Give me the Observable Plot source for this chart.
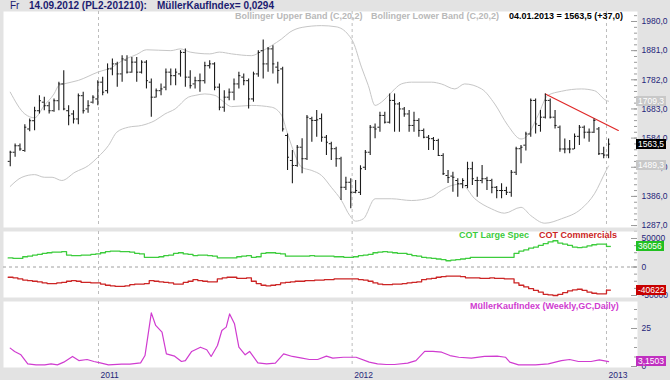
<!DOCTYPE html>
<html><head><meta charset="utf-8">
<script src="https://cdn.jsdelivr.net/npm/d3@7"></script>
<script src="https://cdn.jsdelivr.net/npm/@observablehq/plot@0.6"></script>
<style>
body{margin:0;background:#e3e3e3;font-family:"Liberation Sans",Arial,sans-serif;}
#wrap{position:relative;width:670px;height:380px;overflow:hidden;background:#e3e3e3;}
.p{position:absolute;left:0;}
.t{position:absolute;white-space:nowrap;font-weight:bold;font-size:9px;line-height:10px;}
.box{position:absolute;left:636px;height:10px;line-height:10px;font-size:8.5px;color:#fff;padding:0 2px;white-space:nowrap;}
</style></head><body><div id="wrap"></div>
<script>
// ---------- DATA (weekly bars, first bar Friday 27.08.2010, last 04.01.2013) ----------
const opens  = [1505,1536,1558,1542,1615,1643,1677,1706,1694,1677,1711,1768,1677,1666,1649,1728,1683,1706,1717,1774,1745,1819,1836,1802,1849,1808,1842,1808,1842,1774,1723,1745,1757,1808,1796,1802,1875,1791,1768,1779,1779,1830,1836,1757,1689,1723,1740,1768,1791,1779,1717,1802,1881,1836,1887,1825,1819,1593,1508,1491,1553,1514,1650,1644,1650,1587,1565,1548,1514,1417,1434,1400,1400,1485,1536,1621,1621,1661,1638,1712,1700,1683,1666,1627,1644,1610,1587,1582,1576,1525,1457,1455,1440,1429,1423,1480,1440,1440,1446,1440,1417,1406,1406,1400,1468,1548,1560,1598,1712,1627,1655,1712,1655,1621,1547,1547,1547,1590,1621,1604,1604,1615,1531,1526.5];
const highs  = [1539,1564,1564,1629,1649,1689,1728,1723,1706,1717,1774,1813,1694,1677,1734,1740,1711,1728,1779,1791,1836,1853,1842,1864,1864,1858,1858,1847,1847,1785,1751,1768,1819,1819,1819,1881,1887,1813,1791,1802,1842,1847,1840,1768,1745,1751,1785,1808,1802,1785,1808,1881,1917,1892,1898,1842,1825,1598,1542,1559,1582,1661,1655,1678,1666,1593,1570,1553,1519,1451,1446,1440,1490,1542,1627,1632,1672,1672,1734,1734,1705,1688,1678,1672,1650,1615,1593,1586,1580,1531,1474,1468,1446,1446,1502,1502,1451,1491,1451,1444,1420,1429,1417,1474,1553,1559,1604,1717,1717,1678,1734,1717,1678,1625,1581,1576,1598,1627,1625,1615,1649,1620,1553,1581];
const lows   = [1487,1519,1539,1536,1606,1609,1666,1677,1666,1672,1677,1677,1626,1632,1629,1666,1668,1700,1694,1728,1734,1796,1757,1774,1802,1804,1774,1802,1751,1655,1720,1728,1745,1762,1762,1791,1757,1751,1751,1740,1768,1819,1745,1677,1672,1711,1711,1751,1762,1683,1706,1791,1785,1808,1802,1768,1605,1474,1429,1485,1463,1508,1570,1587,1570,1525,1508,1485,1372,1406,1344,1395,1389,1474,1525,1582,1604,1632,1632,1604,1604,1655,1604,1604,1587,1582,1542,1542,1522,1457,1430,1400,1383,1412,1412,1423,1383,1429,1406,1395,1378,1378,1389,1383,1457,1497,1540,1587,1598,1604,1649,1649,1615,1536,1531,1531,1545,1559,1581,1570,1600,1525,1514,1514];
const closes = [1536,1558,1547,1621,1643,1677,1711,1694,1677,1711,1768,1683,1660,1649,1728,1677,1694,1723,1774,1740,1819,1836,1802,1853,1808,1842,1808,1842,1779,1723,1745,1751,1808,1796,1808,1875,1791,1762,1779,1779,1830,1836,1757,1689,1723,1740,1768,1796,1779,1717,1802,1875,1836,1887,1836,1814,1615,1519,1491,1553,1514,1655,1644,1646,1587,1570,1548,1514,1417,1434,1400,1406,1480,1536,1621,1615,1661,1638,1712,1700,1683,1666,1627,1644,1610,1587,1582,1576,1525,1463,1450,1451,1429,1440,1480,1446,1440,1446,1440,1417,1406,1406,1400,1468,1548,1553,1598,1712,1632,1655,1712,1655,1627,1547,1547,1547,1590,1621,1604,1604,1644,1531,1526.5,1563.5];

// Bollinger bands (week index, value)
const upperWeeks  = [0,3,5,7,9,10,11,14,18,21,23,26,28,33,35,37,41,43,45.5,49.6,51.7,53.7,55.8,57.5,60,64,67,69.5,70.5,72.2,73.6,75,76.3,78.4,80.4,82.5,86.6,88.6,91.4,93.4,96.9,99.6,102.3,105,106,108.5,110.5,113.3,117.4,120.1,122.5,123];
const upperValues = [1740,1666,1653,1695,1734,1763,1768,1780,1808,1825,1847,1868,1884,1881,1887,1876,1870,1876,1870,1864,1879,1898,1921,1944,1960,1966,1962,1935,1910,1825,1763,1695,1706,1740,1768,1774,1774,1768,1751,1768,1751,1700,1627,1581,1587,1661,1729,1743,1751,1745,1712,1709.3];
const lowerWeeks  = [0,2.4,5,7,8.6,10.6,13.3,16.1,18,20.2,21.9,24.3,27,29.8,31.8,33.9,36.6,38,40,42.1,43.5,45.5,49.6,53.7,55.8,56.8,58.2,59.9,62,64,66,68.1,69.8,71,72.6,75,78.4,82.5,86.6,88.6,90.7,92.7,95.5,98.9,101.6,105,107,109.9,113.3,117.4,120.1,122.5,123];
const lowerValues = [1420,1451,1460,1451,1451,1440,1468,1491,1519,1559,1604,1621,1627,1644,1666,1683,1723,1729,1734,1729,1712,1691,1695,1689,1661,1610,1542,1485,1474,1457,1417,1372,1321,1302,1310,1378,1378,1372,1383,1406,1423,1428,1378,1344,1329,1349,1321,1295,1310,1344,1395,1474,1489.3];
const trendWeeks  = [110,125];
const trendValues = [1734,1610];

// COT (weekly, Tuesdays)
const cotLargeSpec = [16000,15000,15000,18000,19000,21000,22000,24000,25000,26000,26000,27000,21000,20000,20000,21000,21000,22000,23000,25000,27000,28000,28000,27000,27000,26000,24000,23000,17000,17000,17000,18000,20000,21000,24000,25000,23000,22000,20000,21000,21000,20000,19000,16000,16000,16000,16000,18000,19000,20000,17000,18000,24000,25000,25000,24000,23000,19000,19000,19000,19000,19000,20000,19000,19000,19000,19000,18000,18000,17000,17000,18000,20000,21000,22000,25000,26000,27000,26000,25000,24000,24000,22000,20000,19000,17000,16000,15000,14000,13000,11000,12000,13000,14000,15000,17000,17000,17000,17000,17000,17000,17000,17000,17000,24000,28000,30000,33000,35000,38000,41000,44000,46000,42000,40000,38000,35000,34000,35000,37000,39000,40000,40000,36056];
const cotCommercials = [-18000,-19000,-21000,-23000,-24000,-25000,-26000,-28000,-29000,-29000,-28000,-27000,-25000,-24000,-25000,-27000,-27000,-28000,-28000,-30000,-32000,-33000,-34000,-34000,-33000,-31000,-30000,-30000,-29000,-24000,-25000,-26000,-27000,-28000,-30000,-30000,-27000,-25000,-22000,-24000,-25000,-26000,-26000,-21000,-19000,-18000,-18000,-20000,-20000,-19000,-25000,-29000,-32000,-33000,-32000,-31000,-28000,-27000,-26000,-25000,-25000,-24000,-24000,-23000,-23000,-22000,-22000,-21000,-21000,-21000,-21000,-21000,-22000,-23000,-25000,-28000,-30000,-31000,-31000,-30000,-30000,-29000,-28000,-27000,-26000,-22000,-21000,-20000,-18000,-17000,-16000,-16000,-16000,-17000,-19000,-19000,-19000,-20000,-20000,-19000,-20000,-20000,-21000,-21000,-28000,-32000,-35000,-38000,-41000,-44000,-48000,-49000,-50000,-48000,-45000,-42000,-40000,-39000,-41000,-44000,-46000,-47000,-47000,-40622];

// MüllerKaufIndex (week index, value)
const mkiWeeks  = [0,0.9,2.2,3.6,5.3,7.1,8.4,9.7,11,12.8,14.1,15.8,17.2,18.5,20.2,22.9,24.6,26.8,27.7,29.0,29.9,31.2,32.1,33.8,35.2,36.0,37.3,39.1,40.4,41.3,42.6,43.5,44.4,45.1,46.1,47.0,48.3,49.2,50.9,52.7,54.5,56.2,58,59.7,61.5,63.2,65,66.3,68.5,71.1,73.8,75.5,77.3,79,81.7,83.4,85.2,86.9,88.7,90.4,92.2,94.8,97.5,100.1,101.8,102.7,104.5,108,110.6,113.3,115,116.8,119.4,121.1,123];
const mkiValues = [12.1,9.9,7.7,1.75,1.1,1.1,1.75,1.1,2.85,6.6,3.9,4.6,3.3,2.4,1.1,1.5,1.5,2.4,7.2,35.3,27,22.6,8.3,6.8,3.3,3.9,9.9,12.7,11,6.6,13.8,23.7,25.9,34.6,28.1,12.7,7.7,9.9,2.4,1.75,2.2,8.3,6.6,5.7,4.6,4.6,6.8,5.5,6.1,6.1,2.85,1.75,1.3,1.3,2.2,3.9,9.9,9.9,9.4,7.2,6.1,5.5,6.6,6.8,6.1,2.85,1.1,1.1,1.75,3.9,4.6,3.3,3.3,4.4,3.1503];

const priceTicks = [1287,1386,1485,1584,1683,1782,1881,1980];
const cotTicks = [-50000,0,50000];
const mkiTicks = [0,25];
const yearTicks = ["2011-01-01","2012-01-01","2013-01-01"];

// ---------- BUILD ----------
const DAY = 864e5;
const firstFriday = Date.UTC(2010,7,27);
const weekDate = w => new Date(firstFriday + w*7*DAY);
const years = yearTicks.map(s => new Date(s + "T00:00:00Z"));
const xDomain = [new Date(Date.UTC(2010,7,17,7)), new Date(Date.UTC(2013,1,14,15))];
const W = 670, ML = 3, MR = 33, PW = W - ML - MR;
const fmt1 = v => v.toFixed(1).replace(".", ",");
const axisColor = "#26267a";
const font = {fontFamily: "Liberation Sans, Arial, sans-serif", fontSize: "8.5px", background: "transparent", overflow: "visible"};

const bars = opens.map((o,i) => ({date: weekDate(i), open: o, high: highs[i], low: lows[i], close: closes[i]}));
const upper = upperWeeks.map((w,i) => ({date: weekDate(w), value: upperValues[i]}));
const lower = lowerWeeks.map((w,i) => ({date: weekDate(w), value: lowerValues[i]}));
const trend = trendWeeks.map((w,i) => ({date: weekDate(w), value: trendValues[i]}));
const cot = cotLargeSpec.map((v,i) => ({date: new Date(+weekDate(i) - 3*DAY), spec: v, comm: cotCommercials[i]}));
const mki = mkiWeeks.map((w,i) => ({date: weekDate(w), value: mkiValues[i]}));
const tl = 2.9*DAY;
const barColor = "#1c1c1c";

const wrap = document.getElementById("wrap");
function place(svg, top){ svg.classList.add("p"); svg.style.top = top + "px"; wrap.appendChild(svg); }

// Panel 1: price
const p1Top = 11, p1H = 216;
const minorPrice = d3.range(1287 - 19.8, 2013, 19.8);
const p1 = Plot.plot({
  width: W, height: p1H, marginLeft: ML, marginRight: MR, marginTop: 0, marginBottom: 0,
  style: font,
  x: {type: "utc", domain: xDomain, axis: null},
  y: {domain: [1280.4, 2013.96], axis: null, label: null},
  marks: [
    Plot.frame({fill: "white", stroke: "none"}),
    Plot.ruleX(years, {stroke: "#bdbdbd", strokeDasharray: "3,3"}),
    Plot.line(upper, {x: "date", y: "value", stroke: "#c6c6c6", strokeWidth: 1, curve: "monotone-x"}),
    Plot.line(lower, {x: "date", y: "value", stroke: "#c6c6c6", strokeWidth: 1, curve: "monotone-x"}),
    Plot.line(trend, {x: "date", y: "value", stroke: "#e02828", strokeWidth: 1.2}),
    Plot.ruleX(bars, {x: "date", y1: "low", y2: "high", stroke: barColor, strokeWidth: 1.1}),
    Plot.ruleY(bars, {y: "open", x1: d => new Date(+d.date - tl), x2: "date", stroke: barColor}),
    Plot.ruleY(bars, {y: "close", x1: "date", x2: d => new Date(+d.date + tl), stroke: barColor}),
    Plot.tickY(minorPrice, {insetLeft: PW - 3, stroke: "#9a9a9a"}),
    Plot.tickY(priceTicks, {insetLeft: PW - 6, stroke: "#9a9a9a"}),
    Plot.axisY(priceTicks, {anchor: "right", tickSize: 0, tickPadding: 4, tickFormat: fmt1, fill: axisColor, label: null})
  ]
});
place(p1, p1Top);

// Panel 2: COT
const p2Top = 231, p2H = 66;
const last = cot[cot.length - 1];
const lastSeg = [{x1: last.date, x2: new Date(+last.date + 7*DAY), spec: last.spec, comm: last.comm}];
const p2 = Plot.plot({
  width: W, height: p2H, marginLeft: ML, marginRight: MR, marginTop: 0, marginBottom: 0,
  style: font,
  x: {type: "utc", domain: xDomain, axis: null},
  y: {domain: [-53497, 62267], axis: null, label: null},
  marks: [
    Plot.frame({fill: "white", stroke: "none"}),
    Plot.ruleX(years, {stroke: "#bdbdbd", strokeDasharray: "3,3"}),
    Plot.ruleY([0], {stroke: "#a0a0a0", strokeDasharray: "3,3"}),
    Plot.line(cot, {x: "date", y: "spec", curve: "step-after", stroke: "#3ccc3c", strokeWidth: 1.3}),
    Plot.ruleY(lastSeg, {x1: "x1", x2: "x2", y: "spec", stroke: "#3ccc3c", strokeWidth: 1.3}),
    Plot.line(cot, {x: "date", y: "comm", curve: "step-after", stroke: "#cc2424", strokeWidth: 1.3}),
    Plot.ruleY(lastSeg, {x1: "x1", x2: "x2", y: "comm", stroke: "#cc2424", strokeWidth: 1.3}),
    Plot.tickY(d3.range(-50000, 62000, 12500), {insetLeft: PW - 3, stroke: "#9a9a9a"}),
    Plot.tickY(cotTicks, {insetLeft: PW - 6, stroke: "#9a9a9a"}),
    Plot.axisY(cotTicks, {anchor: "right", tickSize: 0, tickPadding: 4, tickFormat: v => String(v), fill: axisColor, label: null})
  ]
});
place(p2, p2Top);

// Panel 3: MKI
const p3Top = 301, p3H = 79;
const p3 = Plot.plot({
  width: W, height: p3H, marginLeft: ML, marginRight: MR, marginTop: 0, marginBottom: 13,
  style: font,
  x: {type: "utc", domain: xDomain, axis: null},
  y: {domain: [-0.66, 42.76], axis: null, label: null},
  marks: [
    Plot.frame({fill: "white", stroke: "none"}),
    Plot.ruleX(years, {stroke: "#bdbdbd", strokeDasharray: "3,3"}),
    Plot.line(mki, {x: "date", y: "value", stroke: "#d03cd0", strokeWidth: 1.2}),
    Plot.tickY(d3.range(0, 42, 6.25), {insetLeft: PW - 3, stroke: "#9a9a9a"}),
    Plot.tickY(mkiTicks, {insetLeft: PW - 6, stroke: "#9a9a9a"}),
    Plot.axisY(mkiTicks, {anchor: "right", tickSize: 0, tickPadding: 4, tickFormat: v => String(v), fill: axisColor, label: null}),
    Plot.axisX(years, {anchor: "bottom", tickSize: 0, tickPadding: 4, tickFormat: d => String(d.getUTCFullYear()), textAnchor: "start", dx: 2, fill: axisColor, label: null})
  ]
});
place(p3, p3Top);

// ---------- TEXTS ----------
function txt(s, left, top, color, size, weight){
  const d = document.createElement("div"); d.className = "t"; d.textContent = s;
  d.style.left = left + "px"; d.style.top = top + "px"; d.style.color = color;
  if (size) d.style.fontSize = size + "px";
  if (weight) d.style.fontWeight = weight;
  wrap.appendChild(d);
}
txt("Fr", 10, 1, "#1c1c70", 10, "normal");
txt("14.09.2012 (PL2-201210):", 29, 1, "#1c1c70", 10);
txt("MüllerKaufIndex= 0,0294", 157, 1, "#1c1c70", 10);
txt("Bollinger Upper Band (C,20,2)", 235, 11, "#b9b9b9");
txt("Bollinger Lower Band (C,20,2)", 371, 11, "#b9b9b9");
txt("04.01.2013 = 1563,5 (+37,0)", 509, 11, "#000");
txt("COT Large Spec", 459, 230, "#3ccc3c");
txt("COT Commercials", 539, 230, "#cc2424");
txt("MüllerKaufIndex (Weekly,GC,Daily)", 470, 301, "#d03cd0");

function box(s, top, bg, color){
  const d = document.createElement("div"); d.className = "box"; d.textContent = s;
  d.style.top = (top - 5) + "px"; d.style.background = bg; if (color) d.style.color = color;
  wrap.appendChild(d);
}
const y1 = p1.scale("y"), y2 = p2.scale("y"), y3 = p3.scale("y");
box(fmt1(upperValues[upperValues.length-1]), p1Top + y1.apply(upperValues[upperValues.length-1]), "#c8c8c8");
box(fmt1(lowerValues[lowerValues.length-1]), p1Top + y1.apply(lowerValues[lowerValues.length-1]), "#c8c8c8");
box(fmt1(closes[closes.length-1]), p1Top + y1.apply(closes[closes.length-1]), "#000");
box(String(cotLargeSpec[cotLargeSpec.length-1]), p2Top + y2.apply(cotLargeSpec[cotLargeSpec.length-1]), "#22c022");
box(String(cotCommercials[cotCommercials.length-1]), p2Top + y2.apply(cotCommercials[cotCommercials.length-1]), "#c80000");
box(mkiValues[mkiValues.length-1].toFixed(4).replace(".", ","), p3Top + y3.apply(mkiValues[mkiValues.length-1]), "#c030c0");
</script>
</body></html>
